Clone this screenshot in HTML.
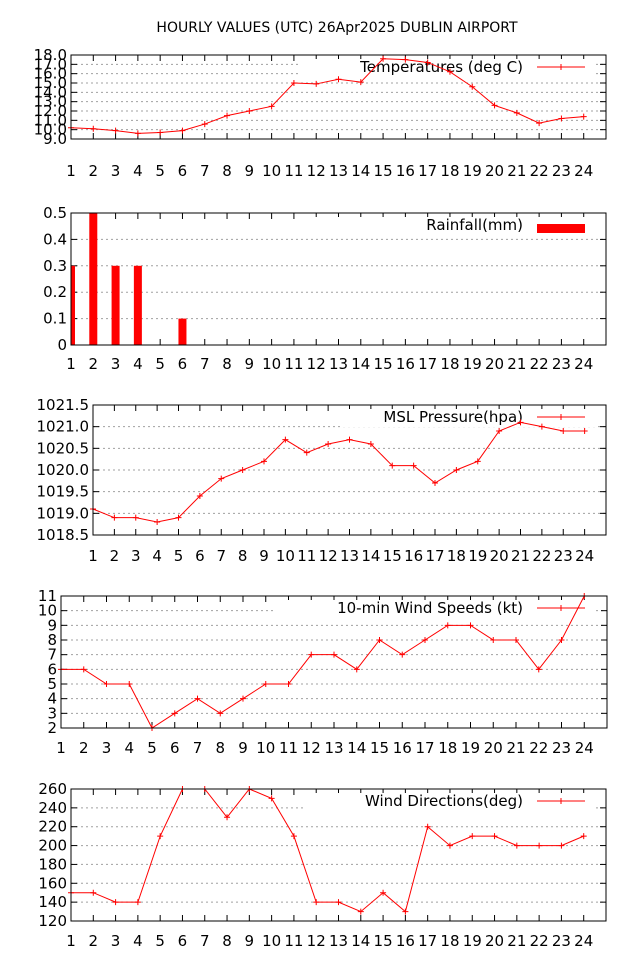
<!DOCTYPE html>
<html><head><meta charset="utf-8"><style>
body{margin:0;background:#fff;}
svg{display:block;font-family:"DejaVu Sans","Liberation Sans",sans-serif;}
</style></head><body>
<svg id="c" width="640" height="960">
<text x="337" y="32" text-anchor="middle" font-size="14">HOURLY VALUES (UTC) 26Apr2025  DUBLIN AIRPORT</text>
</svg>
<script>
const hours=[1,2,3,4,5,6,7,8,9,10,11,12,13,14,15,16,17,18,19,20,21,22,23,24];
const tempValues=[10.2,10.1,9.9,9.6,9.7,9.9,10.6,11.5,12.0,12.5,15.0,14.9,15.4,15.1,17.6,17.5,17.2,16.2,14.6,12.6,11.8,10.7,11.2,11.4];
const tempTicks=[9,10,11,12,13,14,15,16,17,18];
const rainValues=[0.3,0.5,0.3,0.3,0,0.1,0,0,0,0,0,0,0,0,0,0,0,0,0,0,0,0,0,0];
const rainTicks=[0,0.1,0.2,0.3,0.4,0.5];
const pressValues=[1019.1,1018.9,1018.9,1018.8,1018.9,1019.4,1019.8,1020.0,1020.2,1020.7,1020.4,1020.6,1020.7,1020.6,1020.1,1020.1,1019.7,1020.0,1020.2,1020.9,1021.1,1021.0,1020.9,1020.9];
const pressTicks=[1018.5,1019,1019.5,1020,1020.5,1021,1021.5];
const windValues=[6,6,5,5,2,3,4,3,4,5,5,7,7,6,8,7,8,9,9,8,8,6,8,11];
const windTicks=[2,3,4,5,6,7,8,9,10,11];
const dirValues=[150,150,140,140,210,260,260,230,260,250,210,140,140,130,150,130,220,200,210,210,200,200,200,210];
const dirTicks=[120,140,160,180,200,220,240,260];

const svg=document.getElementById('c');
const NS='http://www.w3.org/2000/svg';
function mk(tag,a,p){const e=document.createElementNS(NS,tag);for(const k in a)e.setAttribute(k,a[k]);(p||svg).appendChild(e);return e;}

function panel(o){
  const g=mk('g',{});
  
  
  const x=h=>o.x0+(h-1)*(o.x1-o.x0)/24;
  const ymin=o.ticks[0],ymax=o.ticks[o.ticks.length-1];
  const y=v=>o.y1-(v-ymin)/(ymax-ymin)*(o.y1-o.y0);
  o.ticks.forEach((t,i)=>{
    if(i>0&&i<o.ticks.length-1){const gl=mk('line',{x1:o.x0,x2:o.x1,y1:y(t),y2:y(t),stroke:'#a0a0a0','stroke-dasharray':'2,3','stroke-width':1},g);
      }
    const tl=mk('text',{x:o.x0-4,y:y(t)+5,'text-anchor':'end','font-size':15},g);
    
    tl.textContent=(t===0&&o.zeroPlain)?'0':t.toFixed(o.dec);
    mk('line',{x1:o.x0,x2:o.x0+6,y1:y(t),y2:y(t),stroke:'#000'},g);
    mk('line',{x1:o.x1,x2:o.x1-6,y1:y(t),y2:y(t),stroke:'#000'},g);
  });
  hours.forEach(h=>{
    mk('line',{x1:x(h),x2:x(h),y1:o.y1,y2:o.y1-6,stroke:'#000'},g);
    mk('line',{x1:x(h),x2:x(h),y1:o.y0,y2:o.y0+6,stroke:'#000'},g);
    const tl=mk('text',{x:x(h),y:o.y1+o.lab,'text-anchor':'middle','font-size':15},g);
    
    tl.textContent=h;
  });
  mk('rect',{x:o.legX,y:o.y0+4,width:595-o.legX,height:18,fill:'#fff'},g);
  const lt=mk('text',{x:523,y:o.y0+17,'text-anchor':'end','font-size':15,fill:'#000'},g);
  
  lt.textContent=o.label;
  if(o.bars){
    const lb=mk('rect',{x:537,y:o.y0+11,width:48,height:9,fill:'#f00'},g);
    
    const cp=mk('clipPath',{id:'rc'},g);mk('rect',{x:o.x0,y:o.y0,width:o.x1-o.x0,height:o.y1-o.y0},cp);
    o.values.forEach((v,i)=>{if(v<=0)return;
      const b=mk('rect',{x:x(hours[i])-4,y:y(v),width:8,height:o.y1-y(v),fill:'#f00','clip-path':'url(#rc)'},g);
      });
  }else{
    const ll=mk('line',{x1:537,x2:585,y1:o.y0+17-5,y2:o.y0+17-5,stroke:'#f00'},g);
    
    mk('path',{d:`M561 ${o.y0+9}v6M558 ${o.y0+12}h6`,stroke:'#f00'},g);
    const pts=o.values.map((v,i)=>x(hours[i])+','+y(v)).join(' ');
    const pl=mk('polyline',{points:pts,fill:'none',stroke:'#f00','stroke-width':1},g);
    
    o.values.forEach((v,i)=>{const px=x(hours[i]),py=y(v);
      const m=mk('path',{d:`M${px-3} ${py}h6M${px} ${py-3}v6`,stroke:'#f00'},g);
      });
  }
  const fr=mk('rect',{x:o.x0,y:o.y0,width:o.x1-o.x0,height:o.y1-o.y0,fill:'none',stroke:'#000'},g);
  
}
panel({name:'temperature-panel',x0:71,x1:606,y0:55,y1:139,ticks:tempTicks,values:tempValues,dec:1,label:'Temperatures (deg C)',lab:37,legX:300});
panel({name:'rainfall-panel',x0:71,x1:606,y0:213,y1:345,ticks:rainTicks,values:rainValues,dec:1,label:'Rainfall(mm)',bars:true,lab:24,zeroPlain:true,legX:300});
panel({name:'pressure-panel',x0:93,x1:606,y0:405,y1:535,ticks:pressTicks,values:pressValues,dec:1,label:'MSL Pressure(hpa)',lab:26,legX:340});
panel({name:'wind-speed-panel',x0:61,x1:607,y0:596,y1:728,ticks:windTicks,values:windValues,dec:0,label:'10-min Wind Speeds (kt)',lab:25,legX:273});
panel({name:'wind-direction-panel',x0:71,x1:606,y0:789,y1:921,ticks:dirTicks,values:dirValues,dec:0,label:'Wind Directions(deg)',lab:25,legX:303});
</script>
</body></html>
